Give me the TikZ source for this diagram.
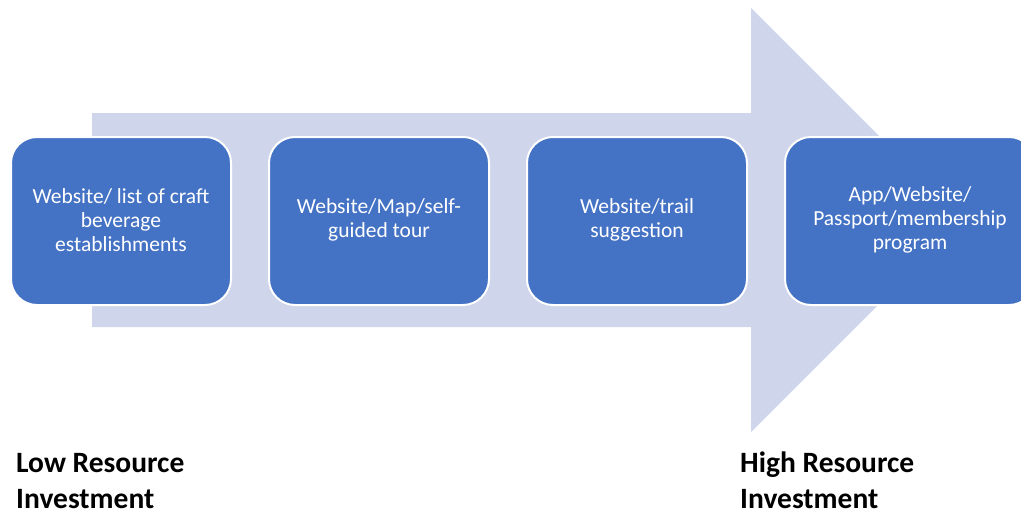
\documentclass[tikz,border=0pt]{standalone}
\usepackage{fontspec}
\setmainfont{Carlito}
\definecolor{boxblue}{HTML}{4472C4}
\definecolor{arrowgray}{HTML}{CFD5EA}
\begin{document}
\begin{tikzpicture}[x=1pt,y=-1pt,
  stage/.style={fill=boxblue,draw=white,line width=2pt,rounded corners=26pt},
  stagetext/.style={text=white,align=center,font=\fontsize{21.5}{23.8}\selectfont},
  rlabel/.style={anchor=base west,align=left,font=\bfseries\fontsize{29.5}{36}\selectfont,inner sep=0pt}]
\useasboundingbox (0,0) rectangle (1021,514);
\fill[arrowgray] (92,113) -- (751,113) -- (751,8) -- (963,220) -- (751,432) -- (751,327) -- (92,327) -- cycle;
\draw[stage] (11,137) rectangle (231,305);
\draw[stage] (269,137) rectangle (489,305);
\draw[stage] (527,137) rectangle (747,305);
\draw[stage] (785,137) rectangle (1035,305);
\node[stagetext] (s1) at (121,220) {Website/ list of craft\\beverage\\establishments};
\node[stagetext] (s2) at (379,220) {Website/Map/self-\\guided tour};
\node[stagetext] (s3) at (637,220) {Website/trail\\suggestion};
\node[stagetext] (s4) at (910,220) {App/Website/\\Passport/membership\\program};
\node[rlabel] (low) at (16,508) {Low Resource\\Investment};
\node[rlabel] (high) at (740,508) {High Resource\\Investment};
\end{tikzpicture}
\end{document}
